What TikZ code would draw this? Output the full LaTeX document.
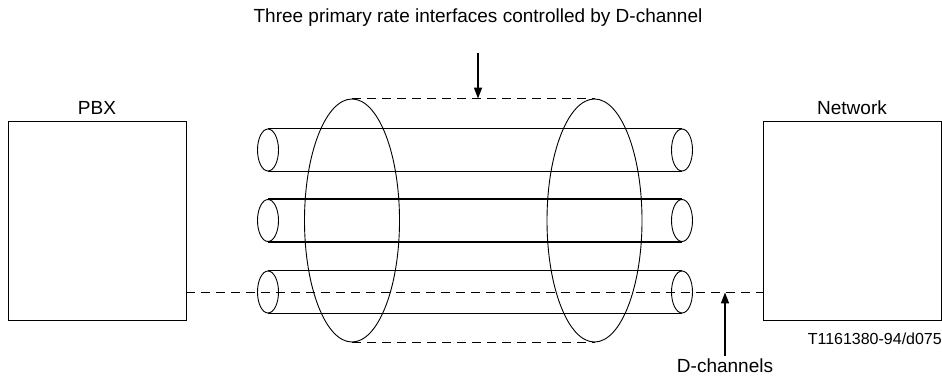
\documentclass[tikz,border=0pt]{standalone}
\usepackage{fontspec}
\setmainfont{Liberation Sans}
\usepackage{tikz}
\usetikzlibrary{shapes.geometric, arrows.meta, positioning, calc}
\tikzstyle{unitbox} = [rectangle, minimum width=178pt, minimum height=199pt, draw=black, line width=0.9pt, inner sep=0pt]
\tikzstyle{endcap} = [ellipse, minimum width=21pt, minimum height=42pt, draw=black, line width=0.9pt, inner sep=0pt]
\tikzstyle{ring} = [ellipse, minimum width=95pt, minimum height=243pt, draw=black, line width=0.9pt, inner sep=0pt]
\tikzstyle{tube} = [line width=1.5pt]
\tikzstyle{dline} = [line width=1.5pt, dash pattern=on 9pt off 6pt]
\tikzstyle{arrow} = [line width=1.5pt, -{Triangle[length=11pt,width=8pt]}]
\tikzstyle{caption} = [font=\fontsize{19}{22}\selectfont, inner sep=0pt]

\begin{document}
\begin{tikzpicture}[x=1pt, y=-1pt]
        \useasboundingbox (0,0) rectangle (942,381);
        \node (pbx) [unitbox] at (97,220.5) {};
        \node (network) [unitbox] at (852,220.5) {};
        \node (pbxlbl) [caption, above=6pt of pbx] {PBX};
        \node (netlbl) [caption, above=6pt of network] {Network};

        % three tubes
        \node (capL1) [endcap] at (268,150) {};
        \node (capR1) [endcap] at (682,150) {};
        \node (capL2) [endcap] at (268,220.5) {};
        \node (capR2) [endcap] at (682,220.5) {};
        \node (capL3) [endcap] at (268,292) {};
        \node (capR3) [endcap] at (682,292) {};
        \foreach \i in {1,2,3} {
            \draw [tube] (capL\i.north) -- (capR\i.north);
            \draw [tube] (capL\i.south) -- (capR\i.south);
        }

        % bundle
        \node (ringL) [ring] at (352,220.5) {};
        \node (ringR) [ring] at (594.5,220.5) {};
        \draw [dline] (ringL.north) -- (ringR.north);
        \draw [dline] (ringL.south) -- (ringR.south);

        % D-channels
        \coordinate (dstart) at ($(pbx.south east)+(0,-28)$);
        \draw [dline] (dstart) -- (dstart -| network.west);

        \node (title) [caption] at (478,18) {Three primary rate interfaces controlled by D-channel};
        \draw [arrow] (478,53) -- (ringL.north -| title.south);
        \node (dchan) [caption] at (725,366) {D-channels};
        \draw [arrow] (dchan.north) ++(0,-3) -- (dstart -| dchan.north);

        \node (ref) [font=\fontsize{16}{19}\selectfont, inner sep=0pt, anchor=east] at (942,339) {T1161380-94/d075};
    \end{tikzpicture}
\end{document}
